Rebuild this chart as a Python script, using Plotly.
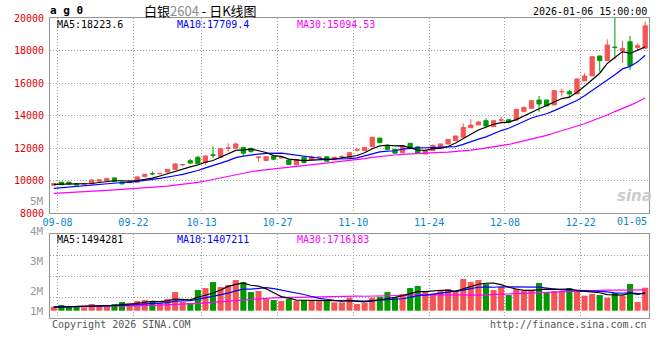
import plotly.graph_objects as go

# ---------------- data ----------------
dates = ["09-08", "09-09", "09-10", "09-11", "09-12", "09-15", "09-16", "09-17", "09-18", "09-19",
         "09-22", "09-23", "09-24", "09-25", "09-26", "09-29", "09-30",
         "10-09", "10-10", "10-13", "10-14", "10-15", "10-16", "10-17", "10-20", "10-21", "10-22",
         "10-23", "10-24", "10-27", "10-28", "10-29", "10-30", "10-31",
         "11-03", "11-04", "11-05", "11-06", "11-07", "11-10", "11-11", "11-12", "11-13", "11-14",
         "11-17", "11-18", "11-19", "11-20", "11-21", "11-24", "11-25", "11-26", "11-27", "11-28",
         "12-01", "12-02", "12-03", "12-04", "12-05", "12-08", "12-09", "12-10", "12-11", "12-12",
         "12-15", "12-16", "12-17", "12-18", "12-19", "12-22", "12-23", "12-24", "12-25", "12-26",
         "12-29", "12-30", "12-31", "01-05", "01-06"]

opens = [9710, 9900, 9900, 9800, 9750, 9790, 9960, 9990, 10160, 9910,
         9870, 9900, 10240, 10430, 10420, 10520, 10690, 10960, 11220, 11430,
         11100, 11580, 11430, 11980, 11990, 12040, 11980, 11420, 11230, 11500,
         11390, 11260, 10970, 11430, 11270, 11420, 11460, 11270, 11450, 11370,
         11870, 11840, 12080, 12610, 12180, 11920, 11710, 12290, 12070, 11630,
         11840, 12020, 12250, 12450, 12660, 13250, 13420, 13680, 13310, 13710,
         13740, 13720, 14240, 14440, 14950, 14950, 14650, 15450, 15460, 15330,
         16130, 16440, 17660, 17380, 18210, 17990, 18540, 18180, 18140]
highs = [9820, 9910, 9910, 9840, 9810, 10060, 10070, 10150, 10170, 9930,
         9960, 10240, 10400, 10560, 10460, 10700, 11060, 11010, 11330, 11520,
         11530, 12080, 11990, 12290, 12330, 12060, 11990, 11500, 11480, 11510,
         11430, 11270, 11310, 11440, 11530, 11450, 11470, 11440, 11550, 11720,
         12000, 12050, 12700, 12620, 12190, 11930, 12130, 12300, 12080, 11840,
         12220, 12260, 12560, 12760, 13520, 13770, 13650, 13830, 13700, 13930,
         13750, 14400, 14560, 14940, 15200, 14960, 15560, 15670, 15570, 16270,
         16600, 17660, 17680, 18690, 20000, 18600, 18900, 18440, 19770]
lows = [9690, 9730, 9770, 9690, 9740, 9780, 9950, 9980, 9920, 9770,
        9860, 9890, 10230, 10330, 10390, 10500, 10670, 10880, 11050, 10980,
        10960, 11380, 11420, 11770, 11980, 11540, 11700, 11170, 11210, 11240,
        11380, 10950, 10960, 11050, 11220, 11410, 11180, 11260, 11400, 11360,
        11780, 11830, 12070, 12320, 11870, 11670, 11700, 11980, 11670, 11620,
        11830, 12010, 12240, 12440, 12640, 13210, 13400, 13210, 13290, 13520,
        13560, 13700, 14200, 14420, 14240, 14570, 14630, 15160, 15060, 15310,
        16110, 16420, 16700, 17350, 17460, 17250, 16800, 17970, 18130]
closes = [9800, 9740, 9780, 9730, 9800, 10030, 10040, 10130, 9930, 9790,
          9930, 10220, 10380, 10410, 10440, 10680, 11020, 10980, 11070, 11030,
          11510, 11550, 11960, 12000, 12250, 11680, 11790, 11440, 11460, 11310,
          11410, 10980, 11300, 11100, 11460, 11440, 11190, 11430, 11470, 11710,
          11890, 12040, 12660, 12330, 11920, 11680, 12120, 11990, 11680, 11830,
          12160, 12250, 12530, 12740, 13270, 13410, 13600, 13360, 13680, 13730,
          13590, 14380, 14500, 14910, 14710, 14590, 15530, 15480, 15330, 16250,
          16430, 17620, 17380, 18340, 18180, 18130, 17070, 18300, 19520]

ma5 = [9760, 9765, 9770, 9770, 9770, 9816, 9876, 9946, 9986, 9984,
       9964, 10000, 10050, 10146, 10276, 10426, 10586, 10706, 10838, 10956,
       11122, 11228, 11424, 11610, 11854, 11888, 11936, 11832, 11724, 11536,
       11482, 11320, 11292, 11220, 11250, 11256, 11298, 11324, 11398, 11448,
       11538, 11708, 11954, 12126, 12168, 12126, 12142, 12008, 11878, 11860,
       11956, 11982, 12090, 12302, 12590, 12840, 13110, 13276, 13464, 13556,
       13592, 13748, 13976, 14222, 14418, 14618, 14848, 15044, 15128, 15436,
       15804, 16222, 16602, 17204, 17590, 17930, 17820, 18004, 18223.6]
ma10 = [9520, 9560, 9610, 9660, 9700, 9740, 9790, 9830, 9860, 9877,
        9890, 9938, 9998, 10066, 10130, 10195, 10293, 10378, 10492, 10616,
        10774, 10907, 11065, 11224, 11405, 11505, 11582, 11628, 11667, 11695,
        11685, 11628, 11562, 11472, 11393, 11369, 11309, 11308, 11309, 11349,
        11397, 11503, 11639, 11762, 11808, 11832, 11925, 11981, 12002, 12014,
        12041, 12062, 12049, 12090, 12225, 12398, 12546, 12683, 12883, 13073,
        13216, 13429, 13626, 13843, 13987, 14105, 14298, 14510, 14675, 14927,
        15211, 15535, 15823, 16166, 16513, 16867, 17021, 17303, 17709.4]
ma30 = [9210, 9230, 9250, 9270, 9300, 9320, 9350, 9390, 9420, 9450,
        9500, 9530, 9560, 9600, 9630, 9660, 9710, 9760, 9820, 9890,
        9970, 10070, 10180, 10280, 10380, 10460, 10540, 10610, 10670, 10729,
        10783, 10824, 10875, 10921, 10976, 11023, 11061, 11105, 11156, 11220,
        11285, 11346, 11422, 11486, 11535, 11569, 11605, 11639, 11659, 11686,
        11708, 11731, 11750, 11775, 11809, 11866, 11927, 11991, 12065, 12145,
        12218, 12331, 12438, 12565, 12673, 12778, 12923, 13058, 13187, 13338,
        13489, 13675, 13833, 14033, 14242, 14457, 14622, 14832, 15094.53]

volumes = [330000, 466000, 384000, 384000, 274000, 548000, 384000, 384000, 548000, 712000,
           630000, 795000, 877000, 795000, 630000, 959000, 1534000, 712000, 630000, 1699000,
           1863000, 2356000, 1945000, 2110000, 2521000, 2356000, 1534000, 1617000, 959000, 877000,
           795000, 959000, 795000, 877000, 877000, 795000, 877000, 685000, 685000, 1069000,
           548000, 630000, 1069000, 1151000, 1534000, 1069000, 1370000, 1863000, 2028000, 1534000,
           1370000, 1617000, 1781000, 1617000, 2603000, 2356000, 2521000, 2192000, 1699000, 1945000,
           1288000, 1781000, 1617000, 1699000, 2274000, 1534000, 1617000, 1617000, 1863000, 1617000,
           1233000, 1370000, 1288000, 1069000, 1452000, 1233000, 2192000, 712000, 1891000]
vol_ma5 = [300000, 320000, 340000, 360000, 368000, 411000, 395000, 395000, 428000, 515000,
           532000, 614000, 712000, 762000, 745000, 811000, 959000, 926000, 893000, 1107000,
           1288000, 1452000, 1699000, 1995000, 2159000, 2258000, 2093000, 2028000, 1797000, 1469000,
           1156000, 1041000, 877000, 861000, 861000, 861000, 844000, 822000, 784000, 822000,
           773000, 723000, 800000, 893000, 986000, 1091000, 1239000, 1397000, 1573000, 1573000,
           1633000, 1682000, 1666000, 1584000, 1798000, 1995000, 2176000, 2258000, 2274000, 2143000,
           1929000, 1781000, 1666000, 1666000, 1732000, 1781000, 1748000, 1748000, 1781000, 1650000,
           1589000, 1540000, 1474000, 1315000, 1282000, 1282000, 1447000, 1332000, 1494281]
vol_ma10 = [300000, 310000, 320000, 330000, 340000, 360000, 380000, 400000, 420000, 441000,
            471000, 504000, 554000, 595000, 630000, 671000, 786000, 819000, 827000, 926000,
            1049000, 1206000, 1312000, 1444000, 1633000, 1773000, 1773000, 1863000, 1896000, 1814000,
            1707000, 1567000, 1452000, 1329000, 1165000, 1009000, 943000, 850000, 822000, 841000,
            817000, 784000, 811000, 839000, 904000, 932000, 981000, 1099000, 1233000, 1280000,
            1362000, 1461000, 1532000, 1578000, 1685000, 1814000, 1929000, 1962000, 1929000, 1970000,
            1962000, 1978000, 1962000, 1970000, 1937000, 1855000, 1765000, 1707000, 1724000, 1691000,
            1685000, 1644000, 1611000, 1548000, 1466000, 1436000, 1493000, 1403000, 1407211]
vol_ma30 = [320000, 325000, 330000, 335000, 340000, 345000, 350000, 360000, 370000, 380000,
            390000, 400000, 420000, 440000, 460000, 480000, 510000, 540000, 570000, 610000,
            650000, 700000, 750000, 800000, 860000, 910000, 960000, 1000000, 1030000, 1060000,
            1076000, 1092000, 1106000, 1123000, 1143000, 1151000, 1167000, 1177000, 1182000, 1194000,
            1191000, 1186000, 1192000, 1204000, 1234000, 1238000, 1232000, 1271000, 1317000, 1312000,
            1295000, 1271000, 1265000, 1249000, 1251000, 1251000, 1284000, 1303000, 1328000, 1364000,
            1380000, 1408000, 1435000, 1462000, 1509000, 1534000, 1558000, 1589000, 1629000, 1647000,
            1670000, 1694000, 1702000, 1699000, 1696000, 1702000, 1729000, 1691000, 1716183]

tick_dates = ["09-08", "09-22", "10-13", "10-27", "11-10", "11-24", "12-08", "12-22"]
last_tick_date = "01-05"
price_ticks = [8000, 10000, 12000, 14000, 16000, 18000, 20000]
vol_tick_labels = ["5M", "4M", "3M", "2M", "1M"]
symbol = "a g 0"
title_name = "白银"
title_code = "2604"
title_rest = " - 日K线图"
timestamp = "2026-01-06 15:00:00"
copyright_text = "Copyright 2026 SINA.COM"
site_text = "http://finance.sina.com.cn"

# ---------------- styling ----------------
W, H = 660, 360
ML, MR, MT, MB = 50, 11, 18, 42
PW, PH = W - ML - MR, H - MT - MB
UP = "#f55555"
DOWN = "#009a00"
GRID = "#a0a0a0"
FRAME = "#959595"
MONO = "DejaVu Sans Mono"


def px_x(px):
    return (px - ML) / PW


def px_y(py):
    return (H - MB - py) / PH


x = list(range(len(dates)))
tickvals = [dates.index(d) + 0.5 for d in tick_dates]
up = [c >= o for o, c in zip(opens, closes)]
vol_colors = [UP if u else DOWN for u in up]

fig = go.Figure()
fig.add_trace(go.Candlestick(
    x=x, open=opens, high=highs, low=lows, close=closes,
    increasing=dict(line=dict(color=UP, width=1), fillcolor=UP),
    decreasing=dict(line=dict(color=DOWN, width=1), fillcolor=DOWN),
    whiskerwidth=0, hoverinfo="skip", xaxis="x", yaxis="y"))
for series, col in ((ma30, "#ff00ff"), (ma10, "#0000ff"), (ma5, "#000000")):
    fig.add_trace(go.Scatter(x=x, y=series, mode="lines", line=dict(color=col, width=1.2),
                             hoverinfo="skip", xaxis="x", yaxis="y"))

fig.add_trace(go.Bar(x=x, y=volumes, marker=dict(color=vol_colors, line=dict(width=0)),
                     width=0.8, hoverinfo="skip", xaxis="x2", yaxis="y2"))
for series, col in ((vol_ma30, "#ff00ff"), (vol_ma10, "#0000ff"), (vol_ma5, "#000000")):
    fig.add_trace(go.Scatter(x=x, y=series, mode="lines", line=dict(color=col, width=1.2),
                             hoverinfo="skip", xaxis="x2", yaxis="y2"))

main_bottom, vol_top = 213, 234.3
vol_lo, vol_hi = -600000, 6280000
vol_grid = [vol_lo + k * (vol_hi - vol_lo) / 4 for k in range(1, 4)]

common_x = dict(range=[-0.5, len(dates) - 0.5], tickvals=tickvals, showgrid=True,
                gridcolor=GRID, griddash="1px,2px", gridwidth=1, zeroline=False,
                showline=True, linecolor=FRAME, linewidth=1, mirror=True, ticks="",
                fixedrange=True, automargin=False)

fig.update_layout(
    width=W, height=H, margin=dict(l=ML, r=MR, t=MT, b=MB, autoexpand=False),
    paper_bgcolor="white", plot_bgcolor="white", showlegend=False,
    hovermode=False, boxgap=0.2,
    xaxis=dict(common_x, anchor="y", ticktext=tick_dates,
               tickfont=dict(family=MONO, size=10, color="#0a84d0"),
               rangeslider=dict(visible=False)),
    yaxis=dict(domain=[px_y(main_bottom), 1], range=[8000, 20000], tickvals=price_ticks,
               ticktext=[str(v) for v in price_ticks],
               tickfont=dict(family=MONO, size=10, color="#e00000"),
               showgrid=True, gridcolor=GRID, griddash="1px,2px", zeroline=False,
               showline=True, linecolor=FRAME, mirror=True, ticks="", ticklabelstandoff=3,
               automargin=False, fixedrange=True),
    xaxis2=dict(common_x, anchor="y2", showticklabels=False),
    yaxis2=dict(domain=[0, px_y(vol_top)], range=[vol_lo, vol_hi], tickvals=vol_grid,
                showticklabels=False, showgrid=True, gridcolor=GRID, griddash="1px,2px",
                zeroline=False, showline=True, linecolor=FRAME, mirror=True, ticks="",
                automargin=False, fixedrange=True),
)

ann = []


def txt(text, px, py, color="#000000", size=10, family=MONO, xanchor="left"):
    ann.append(dict(text=text, x=px_x(px), y=px_y(py), xref="paper", yref="paper",
                    xanchor=xanchor, yanchor="middle", showarrow=False,
                    font=dict(family=family, size=size, color=color)))


# header
txt("<b>%s</b>" % symbol, 48, 11, size=11)
txt('%s<span style="color:#8a8a8a">%s</span>%s' % (title_name, title_code, title_rest),
    200, 11, size=13, family="Noto Sans CJK SC", xanchor="center")
txt(timestamp, 649, 12, xanchor="right")

# MA legends
txt("MA5:%s" % ma5[-1], 55, 24, color="#000000")
txt("MA10:%s" % ma10[-1], 175, 24, color="#0000ff")
txt("MA30:%s" % ma30[-1], 295, 24, color="#ff00ff")
txt("MA5:%d" % vol_ma5[-1], 55, 239, color="#000000")
txt("MA10:%d" % vol_ma10[-1], 175, 239, color="#0000ff")
txt("MA30:%d" % vol_ma30[-1], 295, 239, color="#ff00ff")

# last date label
txt(last_tick_date, 649, 222, color="#0a84d0", xanchor="right")

# volume axis labels
for lab, py in zip(vol_tick_labels, [201, 231, 261, 291, 311]):
    txt(lab, 46, py, color="#9a9a9a", size=11, xanchor="right")

# watermark
txt("<b><i>sina</i></b>", 634, 196, color="#cccccc", size=15, family="DejaVu Sans",
    xanchor="center")

# footer
txt(copyright_text, 50, 324, color="#555555")
txt(site_text, 649, 324, color="#555555", xanchor="right")

fig.update_layout(annotations=ann)
fig.write_html("out.html", config={"displayModeBar": False, "staticPlot": True},
               post_script="document.body.style.margin='0px';")
